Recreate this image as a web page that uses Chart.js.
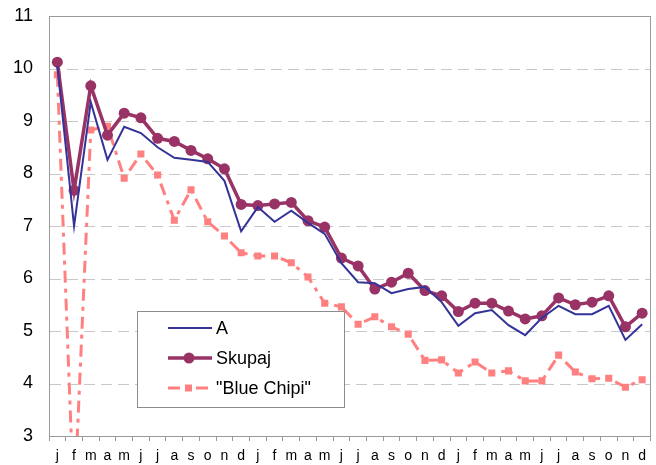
<!DOCTYPE html>
<html>
<head>
<meta charset="utf-8">
<script src="https://cdn.jsdelivr.net/npm/chart.js@4"></script>
<style>
  html, body { margin: 0; padding: 0; background: #fff; }
  #wrap { width: 656px; height: 465px; }
</style>
</head>
<body>
<div id="wrap"><canvas id="myChart" width="656" height="465"></canvas></div>
<script>
// mesečne oznake za tri leta
var meseci = ['j', 'f', 'm', 'a', 'm', 'j', 'j', 'a', 's', 'o', 'n', 'd'];
var oznake = meseci.concat(meseci, meseci);

// vrednosti serij
var serijaA = [10.05, 7.0, 9.36, 8.26, 8.89, 8.77, 8.50, 8.30, 8.26, 8.22, 7.86, 6.90,
    7.36, 7.08, 7.29, 7.06, 6.85, 6.29, 5.93, 5.91, 5.72, 5.80, 5.84, 5.55,
    5.10, 5.34, 5.40, 5.11, 4.92, 5.25, 5.48, 5.32, 5.32, 5.48, 4.83, 5.13];
var skupaj = [10.12, 7.68, 9.67, 8.73, 9.15, 9.06, 8.67, 8.61, 8.44, 8.28, 8.09, 7.41,
    7.39, 7.42, 7.45, 7.10, 6.98, 6.39, 6.24, 5.80, 5.93, 6.10, 5.77, 5.67,
    5.37, 5.53, 5.53, 5.38, 5.23, 5.29, 5.63, 5.50, 5.55, 5.67, 5.08, 5.34];
var blueChipi = [9.88, 1.6, 8.83, 8.90, 7.91, 8.37, 7.97, 7.11, 7.69, 7.08, 6.81, 6.49,
    6.43, 6.43, 6.30, 6.03, 5.53, 5.46, 5.13, 5.27, 5.08, 4.94, 4.44, 4.45,
    4.20, 4.41, 4.20, 4.24, 4.05, 4.05, 4.54, 4.22, 4.09, 4.10, 3.93, 4.07];

var pisava = '"Liberation Sans", Arial, sans-serif';
var crtkano = [12, 6, 4, 6];

// črtkane vodoravne mreže in okvir risalne površine
var okvir = {
    id: 'okvir',
    beforeDatasetsDraw: function (chart) {
        var ctx = chart.ctx, a = chart.chartArea, ys = chart.scales.y;
        ctx.save();
        ctx.strokeStyle = '#c8c8c8';
        ctx.lineWidth = 1;
        ctx.setLineDash([11, 6]);
        ys.ticks.forEach(function (t) {
            var py = Math.round(ys.getPixelForValue(t.value)) + 0.5;
            ctx.beginPath();
            ctx.moveTo(a.left + 1, py);
            ctx.lineTo(a.right, py);
            ctx.stroke();
        });
        ctx.setLineDash([]);
        ctx.strokeStyle = '#9a9a9a';
        ctx.strokeRect(Math.round(a.left) + 0.5, Math.round(a.top) + 0.5,
            Math.round(a.right - a.left) - 1, Math.round(a.bottom - a.top));
        ctx.restore();
    }
};

// legenda znotraj grafa
var legenda = {
    id: 'legenda',
    afterDraw: function (chart) {
        var ctx = chart.ctx;
        var x = 137.5, y = 311.5, w = 207, h = 96;
        ctx.save();
        ctx.fillStyle = '#fff';
        ctx.fillRect(x, y, w, h);
        ctx.strokeStyle = '#8c8c8c';
        ctx.lineWidth = 1;
        ctx.strokeRect(x, y, w, h);

        ctx.font = '18px ' + pisava;
        ctx.textBaseline = 'middle';
        var vrstice = [328, 358, 388];
        chart.data.datasets.forEach(function (ds, i) {
            var yy = vrstice[i];
            ctx.save();
            ctx.strokeStyle = ds.borderColor;
            ctx.lineWidth = ds.borderWidth;
            ctx.setLineDash(ds.borderDash || []);
            ctx.beginPath();
            ctx.moveTo(168, yy);
            ctx.lineTo(212, yy);
            ctx.stroke();
            ctx.restore();
            if (ds.pointRadius > 0) {
                ctx.fillStyle = ds.pointBackgroundColor;
                if (ds.pointStyle === 'rect') {
                    ctx.fillRect(185, yy - 3.5, 7, 7);
                } else {
                    ctx.beginPath();
                    ctx.arc(189, yy, ds.pointRadius, 0, Math.PI * 2);
                    ctx.fill();
                }
            }
            ctx.fillStyle = '#000';
            ctx.fillText(ds.label, 216, yy + 1);
        });
        ctx.restore();
    }
};

var graf = new Chart('myChart', {
    type: 'line',
    data: {
        labels: oznake,
        datasets: [{
            label: 'A',
            data: serijaA,
            borderColor: '#333399',
            borderWidth: 2,
            pointRadius: 0,
            tension: 0
        }, {
            label: 'Skupaj',
            data: skupaj,
            borderColor: '#993366',
            borderWidth: 3.5,
            pointRadius: 5.5,
            pointBorderWidth: 0,
            pointBackgroundColor: '#993366',
            tension: 0
        }, {
            label: '"Blue Chipi"',
            data: blueChipi,
            borderColor: '#ff8080',
            borderWidth: 3,
            borderDash: crtkano,
            pointStyle: 'rect',
            pointRadius: 5,
            pointBorderWidth: 0,
            pointBackgroundColor: '#ff8080',
            tension: 0
        }]
    },
    options: {
        responsive: false,
        animation: false,
        layout: { padding: { top: 16, right: 2, left: 0, bottom: 0 } },
        plugins: {
            legend: { display: false },
            tooltip: { enabled: false }
        },
        scales: {
            x: {
                offset: true,
                grid: {
                    offset: true,
                    drawOnChartArea: false,
                    drawTicks: true,
                    tickLength: 5,
                    tickColor: '#9a9a9a'
                },
                border: { display: false },
                ticks: {
                    color: '#000',
                    font: { family: pisava, size: 14 },
                    padding: 7,
                    maxRotation: 0,
                    autoSkip: false
                },
                afterFit: function (s) { s.height = 29; }
            },
            y: {
                min: 3,
                max: 11,
                grid: { display: false, drawTicks: false },
                border: { display: false },
                ticks: {
                    stepSize: 1,
                    color: '#000',
                    font: { family: pisava, size: 18 },
                    padding: 16
                },
                afterFit: function (s) {
                    s.width = 49;
                    s.paddingTop = 0;
                    s.paddingBottom = 0;
                }
            }
        }
    },
    plugins: [okvir, legenda]
});
</script>
</body>
</html>
